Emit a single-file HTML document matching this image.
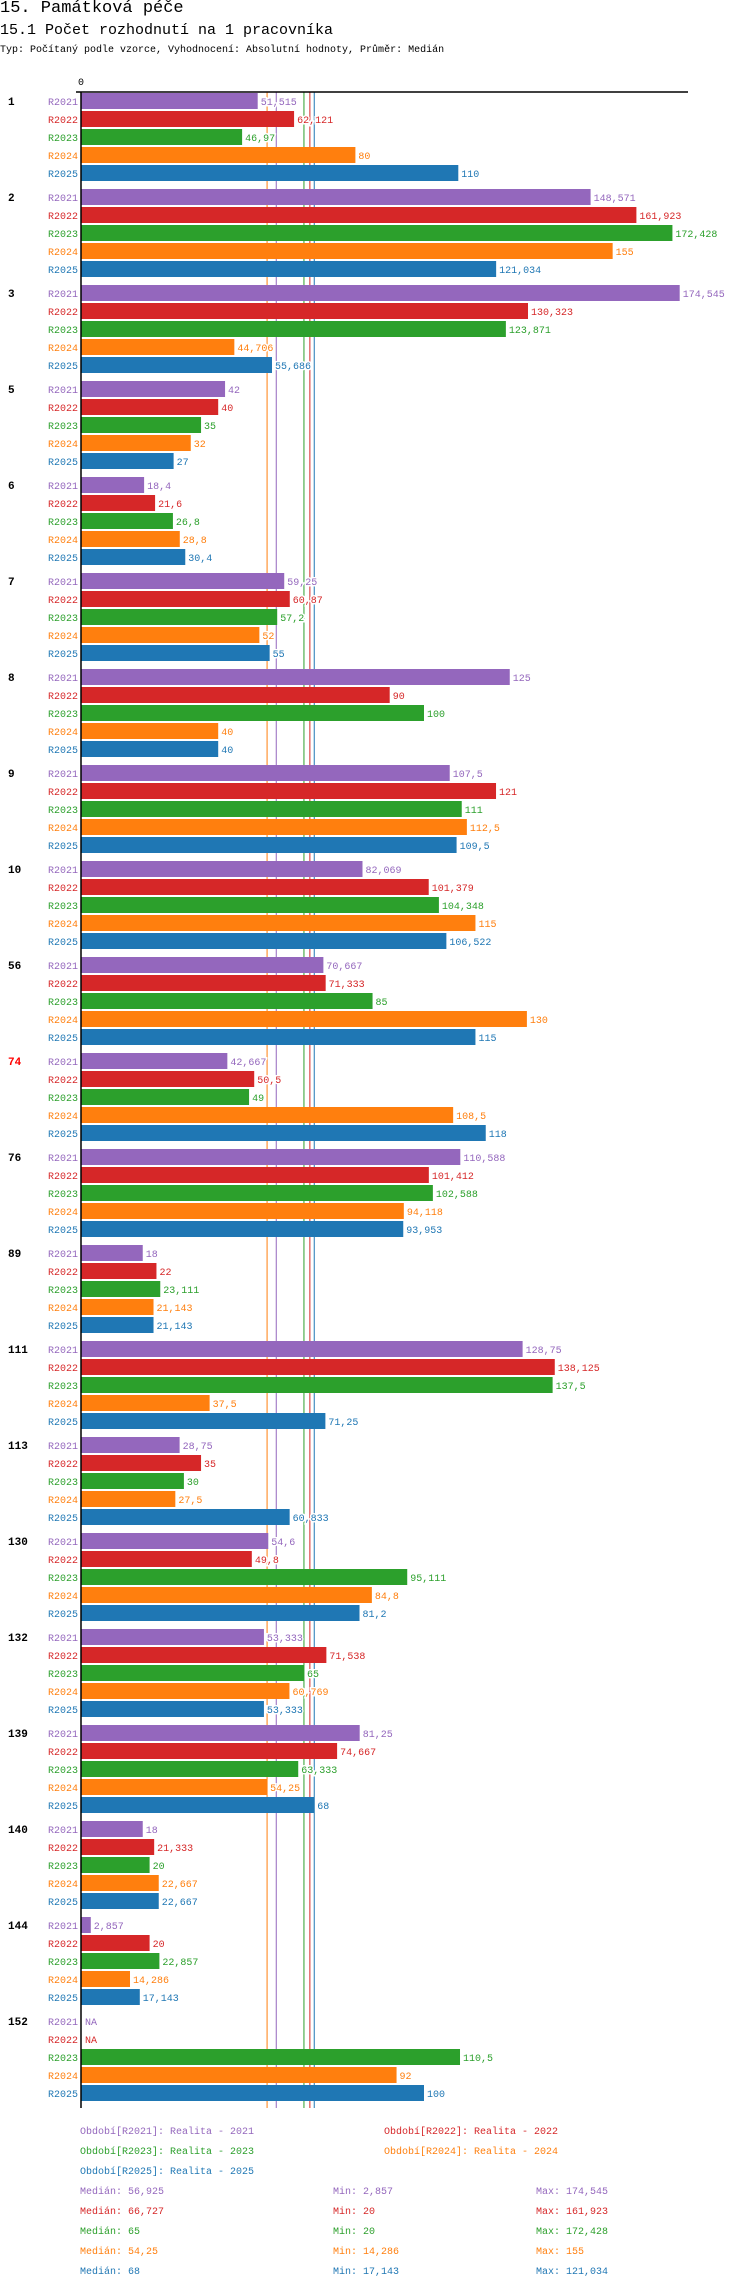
<!DOCTYPE html>
<html><head><meta charset="utf-8"><style>
html,body{margin:0;padding:0;background:#fff;width:750px;height:2288px;overflow:hidden}
.t{position:absolute;left:0;font-family:"Liberation Mono",monospace;color:#000;white-space:nowrap}
svg text{font-family:"Liberation Mono",monospace}
</style></head><body>
<div class="t" style="top:0px;font-size:17px;line-height:18px">15. Památková péče</div>
<div class="t" style="top:22px;font-size:15px">15.1 Počet rozhodnutí na 1 pracovníka</div>
<div class="t" style="top:45px;font-size:10px">Typ: Počítaný podle vzorce, Vyhodnocení: Absolutní hodnoty, Průměr: Medián</div>
<svg id="chart" width="750" height="2288" style="position:absolute;left:0;top:0"></svg>
<script>
const groups=["1","2","3","5","6","7","8","9","10","56","74","76","89","111","113","130","132","139","140","144","152"];
const seriesNames=["R2021","R2022","R2023","R2024","R2025"];
const r2021=[51.515,148.571,174.545,42,18.4,59.25,125,107.5,82.069,70.667,42.667,110.588,18,128.75,28.75,54.6,53.333,81.25,18,2.857,null];
const r2022=[62.121,161.923,130.323,40,21.6,60.87,90,121,101.379,71.333,50.5,101.412,22,138.125,35,49.8,71.538,74.667,21.333,20,null];
const r2023=[46.97,172.428,123.871,35,26.8,57.2,100,111,104.348,85,49,102.588,23.111,137.5,30,95.111,65,63.333,20,22.857,110.5];
const r2024=[80,155,44.706,32,28.8,52,40,112.5,115,130,108.5,94.118,21.143,37.5,27.5,84.8,60.769,54.25,22.667,14.286,92];
const r2025=[110,121.034,55.686,27,30.4,55,40,109.5,106.522,115,118,93.953,21.143,71.25,60.833,81.2,53.333,68,22.667,17.143,100];
const medians=[56.925,66.727,65,54.25,68];
const mins=["2,857","20","20","14,286","17,143"];
const maxs=["174,545","161,923","172,428","155","121,034"];
const medianLabels=["56,925","66,727","65","54,25","68"];
const colors=["#9467bd","#d62728","#2ca02c","#ff7f0e","#1f77b4"];
const series=[r2021,r2022,r2023,r2024,r2025];
const NS="http://www.w3.org/2000/svg";
const svg=document.getElementById('chart');
const X0=81,PX=3.43,TOP=93,BAR=16,PITCH=18,GP=96,BOTTOM=2108;
const xs=v=>X0+v*PX;
const ys=(g,s)=>TOP+g*GP+s*PITCH;
function mk(tag,attrs,txt){const e=document.createElementNS(NS,tag);for(const k in attrs)e.setAttribute(k,attrs[k]);if(txt!==undefined)e.textContent=txt;svg.appendChild(e);return e;}
const fmt=v=>v===null?"NA":String(v).replace('.',',');
medians.forEach((m,i)=>{
  const l=mk('line',{x1:xs(m),x2:xs(m),y1:92,y2:BOTTOM,stroke:colors[i],'stroke-width':1});
  
  
});
groups.forEach((g,gi)=>{
  const gl=mk('text',{x:8,y:ys(gi,0)+BAR/2+4,'font-size':11,'font-weight':'bold',fill:g==="74"?"#f00":"#000"},g);
  
  
  series.forEach((arr,si)=>{
    const y=ys(gi,si),v=arr[gi];
    const sl=mk('text',{x:78,y:y+BAR/2+4,'font-size':10,'text-anchor':'end',fill:colors[si]},seriesNames[si]);
    
    
    let end=X0+1;
    if(v!==null){
      const r=mk('rect',{x:X0,y:y,width:xs(v)-X0,height:BAR,fill:colors[si]});
      
      
      end=xs(v);
    }
    const vl=mk('text',{x:end+3,y:y+BAR/2+4,'font-size':10,fill:colors[si],stroke:'#fff','stroke-width':3,'paint-order':'stroke'},fmt(v));
    
    
  });
});
const ax=mk('line',{x1:76,x2:688,y1:92,y2:92,stroke:'#000','stroke-width':1.5});


const ay=mk('line',{x1:X0,x2:X0,y1:92,y2:BOTTOM,stroke:'#000','stroke-width':1.5});


const zl=mk('text',{x:X0,y:85,'font-size':10,'text-anchor':'middle'},"0");


const legPos=[[80,2134],[384,2134],[80,2154],[384,2154],[80,2174]];
seriesNames.forEach((s,i)=>{
  const t=mk('text',{x:legPos[i][0],y:legPos[i][1],'font-size':10,fill:colors[i]},"Období["+s+"]: Realita - "+s.slice(1));
  
  
  const y=2194+i*20;
  const a=mk('text',{x:80,y:y,'font-size':10,fill:colors[i]},"Medián: "+medianLabels[i]);
  
  
  const b=mk('text',{x:333,y:y,'font-size':10,fill:colors[i]},"Min: "+mins[i]);
  
  
  const c=mk('text',{x:536,y:y,'font-size':10,fill:colors[i]},"Max: "+maxs[i]);
  
  
});
</script>
</body></html>
